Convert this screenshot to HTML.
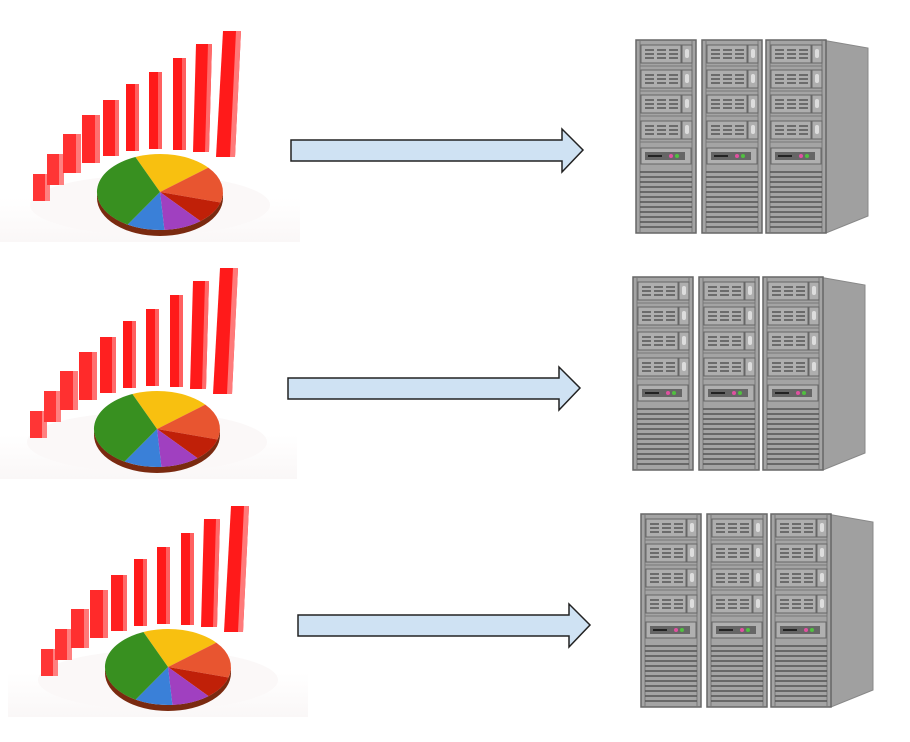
<!DOCTYPE html>
<html><head><meta charset="utf-8"><style>
html,body{margin:0;padding:0;background:#fff;width:910px;height:742px;overflow:hidden}
</style></head><body>
<svg width="910" height="742" viewBox="0 0 910 742" xmlns="http://www.w3.org/2000/svg">
<defs>
<linearGradient id="bg" x1="0" y1="0" x2="0" y2="1"><stop offset="0.8" stop-color="#fff"/><stop offset="1" stop-color="#faf7f7"/></linearGradient>
<g id="chart">
  <rect x="0" y="20" width="300" height="222" fill="url(#bg)"/>
  <ellipse cx="150" cy="205" rx="120" ry="30" fill="#fbf8f8"/>
  <g>
    <rect x="33" y="174" width="17" height="27" fill="#ff3535"/><rect x="45" y="174" width="5" height="27" fill="#ff8080"/>
    <rect x="47" y="154" width="17" height="31" fill="#ff3535"/><rect x="59" y="154" width="5" height="31" fill="#ff8080"/>
    <rect x="63" y="134" width="18" height="39" fill="#ff3030"/><rect x="76" y="134" width="5" height="39" fill="#ff7a7a"/>
    <rect x="82" y="115" width="18" height="48" fill="#ff2a2a"/><rect x="95" y="115" width="5" height="48" fill="#ff7070"/>
    <rect x="103" y="100" width="16" height="56" fill="#ff2020"/><rect x="115" y="100" width="4" height="56" fill="#ff6a6a"/>
    <rect x="126" y="84" width="13" height="67" fill="#ff1a1a"/><rect x="135" y="84" width="4" height="67" fill="#ff6060"/>
    <rect x="149" y="72" width="13" height="77" fill="#ff1a1a"/><rect x="158" y="72" width="4" height="77" fill="#ff6060"/>
    <rect x="173" y="58" width="13" height="92" fill="#ff1a1a"/><rect x="182" y="58" width="4" height="92" fill="#ff6060"/>
    <polygon points="196,44 212,44 209,152 193,152" fill="#ff1a1a"/><polygon points="208,44 212,44 209,152 205,152" fill="#ff6a6a"/>
    <polygon points="223,31 241,31 235,157 216,157" fill="#ff1a1a"/><polygon points="236,31 241,31 235,157 230,157" fill="#ff7a7a"/>
  </g>
  <path d="M97,192 A63,38 0 0 0 223,192 L223,198 A63,38 0 0 1 97,198Z" fill="#7a2a10"/>
  <path d="M160,192 L135.4,157 A63,38 0 0 1 208.3,167.6Z" fill="#f8c010"/>
  <path d="M160,192 L208.3,167.6 A63,38 0 0 1 220.5,202.5Z" fill="#e85530"/>
  <path d="M160,192 L220.5,202.5 A63,38 0 0 1 200.5,221.1Z" fill="#c02008"/>
  <path d="M160,192 L200.5,221.1 A63,38 0 0 1 164.4,229.9Z" fill="#a040c0"/>
  <path d="M160,192 L164.4,229.9 A63,38 0 0 1 127.6,224.6Z" fill="#3a80d8"/>
  <path d="M160,192 L127.6,224.6 A63,38 0 0 1 135.4,157Z" fill="#389020"/>
</g>
<g id="rack">
  <rect x="0" y="0" width="60" height="193" fill="#a4a4a4" stroke="#666" stroke-width="1.5"/>
  <line x1="4" y1="0" x2="4" y2="193" stroke="#777"/><line x1="56" y1="0" x2="56" y2="193" stroke="#777"/>
  <g id="drive">
    <rect x="5" y="5" width="40" height="18" fill="#aeaeae" stroke="#666"/>
    <rect x="46" y="5" width="10" height="18" fill="#aeaeae" stroke="#666"/>
    <rect x="49" y="9" width="4" height="9" rx="2" fill="#ddd"/>
    <g stroke="#555" stroke-width="1.6">
      <path d="M9,10h9M21,10h9M33,10h9M9,14h9M21,14h9M33,14h9M9,18h9M21,18h9M33,18h9"/>
    </g>
    <line x1="4" y1="26" x2="56" y2="26" stroke="#777"/>
  </g>
  <use href="#drive" y="25"/><use href="#drive" y="50"/><use href="#drive" y="76"/>
  <rect x="5" y="108" width="50" height="16" fill="#b0b0b0" stroke="#666"/>
  <rect x="9" y="112" width="40" height="8" fill="#666"/>
  <rect x="12" y="115" width="14" height="2" fill="#222"/>
  <circle cx="35" cy="116" r="2" fill="#e050a0"/><circle cx="41" cy="116" r="2" fill="#50c040"/>
  <g stroke="#555" stroke-width="1.5">
    <path d="M4,132h52M4,137h52M4,142h52M4,147h52M4,152h52M4,157h52M4,162h52M4,167h52M4,172h52M4,177h52M4,182h52M4,187h52"/>
  </g>
</g>
<g id="server">
  <polygon points="186,0 232,8 232,176 190,193 186,193" fill="#a0a0a0" stroke="#888"/>
  <use href="#rack" x="0"/><use href="#rack" x="66"/><use href="#rack" x="130"/>
</g>
<g id="arrow">
  <polygon points="0,-10 271,-10 271,-21 292,0 271,22 271,11 0,11" fill="#cfe2f3" stroke="#222" stroke-width="1.5"/>
</g>
</defs>
<use href="#chart" x="0" y="0"/>
<use href="#chart" x="-3" y="237"/>
<use href="#chart" x="8" y="475"/>
<use href="#arrow" x="291" y="150"/>
<use href="#arrow" x="288" y="388"/>
<use href="#arrow" x="298" y="625"/>
<use href="#server" x="636" y="40"/>
<use href="#server" x="633" y="277"/>
<use href="#server" x="641" y="514"/>
</svg>
</body></html>
